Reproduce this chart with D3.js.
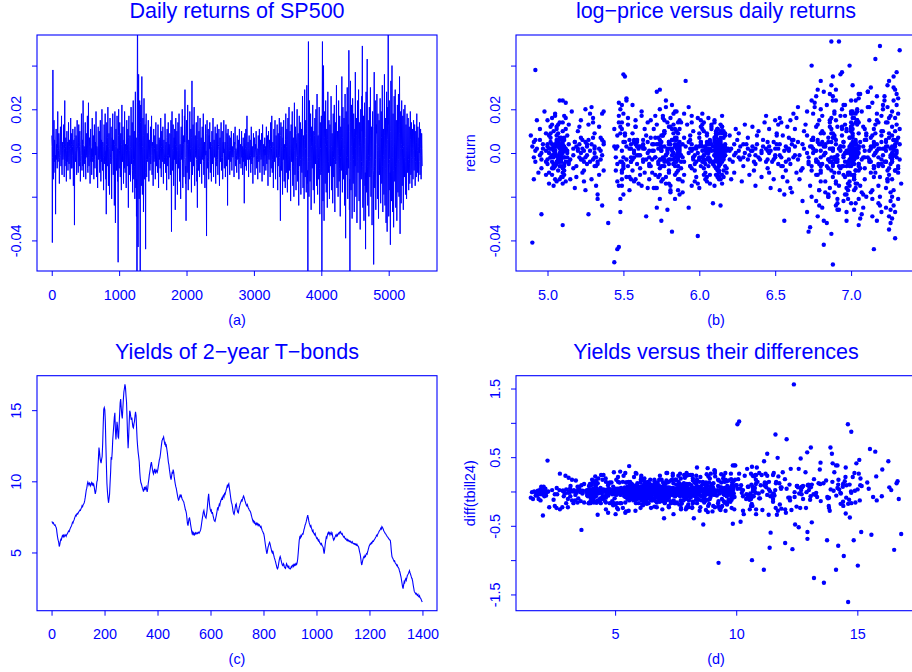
<!DOCTYPE html>
<html><head><meta charset="utf-8">
<script src="https://cdn.jsdelivr.net/npm/d3@7"></script>
<style>
html,body{margin:0;padding:0;background:#fff;}
svg{display:block;}
</style>
</head><body>
<svg id="chart" width="912" height="672"></svg>
<script>
// ---------- DATA ----------
// (a)/(b): SP500 daily returns, every 4th trading day (day index = 1 + 4*j)
const dailyReturns = [
0.008,0.003,-0.041,-0.002,0.038,0.005,-0.012,0.001,0.015,-0.004,0.006,0.002,-0.009,-0.001,-0.028,0.006,0.011,-0.003,0.004,0.000,
-0.007,0.002,0.019,-0.004,-0.003,0.001,0.009,0.004,-0.014,-0.002,0.002,0.007,0.012,-0.001,-0.006,0.003,0.017,-0.005,-0.010,0.001,
0.005,-0.003,-0.002,0.004,0.013,0.000,-0.011,0.002,0.024,-0.006,-0.004,0.003,0.007,-0.002,-0.013,0.001,0.010,-0.004,0.001,0.005,
-0.008,0.001,0.014,-0.002,-0.005,0.006,0.003,-0.004,-0.012,0.002,0.016,-0.001,-0.007,0.004,0.009,-0.007,-0.001,0.003,0.011,0.000,
-0.015,0.004,0.006,-0.003,-0.033,0.007,0.012,0.001,-0.004,-0.002,0.008,0.003,-0.010,-0.005,0.015,0.002,0.002,0.000,-0.009,0.005,
0.013,-0.002,-0.006,0.003,0.010,0.001,-0.013,-0.004,0.004,0.008,0.018,-0.001,-0.008,0.002,0.006,-0.006,0.024,0.004,-0.011,0.001,
0.003,0.002,-0.005,0.000,0.014,-0.003,-0.012,0.005,0.009,-0.001,-0.002,0.004,0.017,-0.007,-0.009,0.001,0.023,-0.002,-0.006,0.003,
0.007,-0.001,-0.014,0.006,0.011,-0.004,0.000,0.002,-0.010,0.003,0.016,-0.002,-0.004,0.001,0.008,-0.005,-0.012,0.004,0.013,-0.003,
-0.007,0.002,0.005,-0.001,0.019,0.005,-0.011,0.003,0.002,-0.006,-0.016,0.001,0.012,-0.002,-0.003,0.004,0.010,0.000,-0.009,0.007,
0.015,-0.003,-0.013,0.002,0.006,-0.004,0.020,0.001,-0.008,0.005,0.004,-0.002,-0.017,0.003,0.013,-0.001,-0.005,0.006,0.018,-0.004,
-0.012,0.001,-0.028,0.004,0.014,-0.003,-0.006,0.007,0.021,-0.002,-0.015,0.003,0.009,-0.006,-0.019,0.002,0.016,0.000,-0.002,-0.005,
0.012,-0.004,-0.021,0.002,0.007,0.001,0.018,-0.003,-0.010,0.006,0.005,-0.001,-0.024,0.004,0.019,-0.008,-0.032,0.003,0.011,-0.002,
-0.008,0.003,0.017,-0.005,-0.013,0.002,-0.050,0.008,0.020,-0.004,-0.007,0.001,0.014,-0.002,-0.011,0.005,0.009,-0.006,-0.017,0.004,
0.022,-0.002,-0.004,0.006,0.012,-0.001,-0.014,0.003,0.006,-0.007,0.019,0.002,-0.009,0.004,0.003,-0.003,-0.016,0.001,0.015,-0.005,
-0.006,0.004,0.011,-0.002,-0.025,0.007,0.017,-0.004,-0.010,0.001,0.008,0.003,-0.013,-0.006,0.021,0.002,-0.005,0.000,0.014,-0.008,
-0.018,0.005,0.024,-0.003,-0.012,0.009,0.010,-0.006,-0.021,0.004,0.028,-0.010,-0.016,0.007,-0.029,-0.012,
-0.204,0.023,0.087,-0.015,-0.043,0.009,0.036,-0.012,-0.021,0.005,0.024,-0.008,-0.065,0.014,0.022,-0.004,-0.015,0.011,0.035,-0.006,-0.019,0.003,0.016,0.008,-0.027,-0.005,0.025,0.002,-0.012,0.006,0.013,-0.009,-0.044,0.012,0.018,-0.003,
-0.011,0.002,0.009,-0.003,-0.004,0.005,0.015,0.000,-0.013,0.004,0.006,-0.002,-0.008,0.001,0.012,-0.005,0.002,0.003,0.017,-0.001,
-0.010,0.003,0.005,-0.001,-0.015,0.006,0.011,-0.004,-0.003,0.002,0.008,0.000,-0.012,0.005,0.014,-0.002,-0.006,0.001,0.004,-0.003,
-0.009,0.001,0.013,-0.002,-0.016,0.004,0.007,-0.003,0.001,0.006,-0.007,0.002,0.016,-0.004,-0.011,0.003,0.010,-0.001,-0.004,0.005,
0.012,-0.003,-0.014,0.002,0.006,0.000,-0.002,-0.005,0.018,0.004,-0.009,0.001,0.005,-0.002,-0.017,0.007,0.011,-0.001,-0.006,0.003,
0.014,-0.001,-0.012,0.004,0.003,-0.002,0.009,0.003,-0.010,0.000,0.015,-0.006,-0.036,0.009,0.019,0.002,-0.008,-0.004,0.013,0.001,
-0.015,0.002,0.007,-0.003,0.011,0.005,-0.026,0.004,0.016,-0.001,-0.005,0.003,0.010,-0.006,-0.019,0.001,0.014,0.000,-0.007,0.004,
0.018,-0.002,-0.013,0.001,0.004,-0.004,-0.021,0.006,0.012,-0.001,-0.003,0.003,0.020,-0.005,-0.016,0.002,0.008,0.004,-0.011,-0.003,
0.017,0.005,0.029,-0.002,-0.014,-0.006,-0.031,0.008,0.015,0.001,-0.009,0.004,0.022,-0.003,-0.017,0.000,0.006,-0.002,-0.012,0.006,
0.019,-0.003,-0.004,0.002,0.011,-0.001,-0.018,0.007,0.033,-0.004,-0.010,0.003,0.013,0.000,-0.006,0.005,0.021,-0.006,-0.015,0.002,
0.008,0.001,-0.002,0.004,0.014,-0.003,-0.013,-0.007,-0.025,0.006,0.017,-0.002,-0.008,0.002,0.010,-0.001,-0.011,0.003,0.016,-0.004,
-0.005,0.002,0.007,0.000,-0.014,0.003,0.012,-0.002,-0.003,0.005,0.018,-0.004,-0.010,0.001,0.005,-0.003,-0.016,0.004,0.013,-0.001,
0.001,-0.006,-0.038,0.009,0.015,-0.002,-0.007,0.003,0.011,-0.004,-0.012,0.001,0.008,0.002,0.014,-0.003,-0.009,0.005,0.004,0.000,
-0.013,0.003,0.010,-0.001,-0.005,0.004,0.016,-0.003,-0.011,0.002,0.006,0.000,-0.002,0.005,0.012,-0.004,-0.014,0.001,0.009,-0.002,
-0.006,0.002,0.013,-0.003,-0.010,0.001,0.003,0.004,0.011,-0.005,-0.015,0.003,0.007,-0.001,-0.004,0.006,0.014,-0.002,-0.008,0.001,
0.010,-0.002,-0.012,0.003,0.005,0.000,0.015,-0.004,-0.007,0.002,0.002,0.005,-0.011,-0.001,0.013,0.001,-0.006,-0.003,0.009,0.004,
-0.024,0.006,0.011,-0.002,-0.003,0.003,0.008,0.001,-0.010,-0.002,
0.007,0.001,-0.004,0.002,0.010,-0.002,-0.008,0.000,0.003,-0.001,-0.002,0.003,0.009,-0.002,-0.011,0.001,0.005,0.004,0.012,-0.003,
-0.006,0.002,0.001,-0.001,-0.009,0.003,0.008,0.000,-0.003,0.001,0.006,-0.003,-0.012,0.004,0.011,-0.002,-0.005,0.000,0.004,0.002,
-0.007,0.001,0.010,-0.002,0.002,0.003,-0.010,0.001,0.007,-0.001,-0.004,0.002,-0.023,0.005,0.009,-0.001,-0.006,0.002,0.011,-0.003,
-0.008,0.003,0.017,-0.002,-0.003,0.001,0.005,0.000,-0.011,0.002,0.008,-0.003,-0.001,0.001,0.006,-0.001,-0.009,0.002,0.012,-0.002,
-0.005,0.000,0.003,-0.004,-0.014,0.002,0.009,0.001,-0.002,0.003,0.007,-0.002,-0.010,0.000,0.004,0.002,0.010,-0.001,-0.007,0.001,
0.002,-0.003,-0.012,0.001,0.008,0.002,-0.004,0.004,0.011,-0.001,-0.009,0.000,0.006,0.001,-0.003,-0.002,0.009,0.003,-0.013,0.004,
0.013,-0.002,-0.006,0.000,0.004,-0.003,-0.010,0.002,0.007,-0.001,0.001,0.003,-0.008,0.001,0.012,-0.004,-0.005,0.002,0.008,-0.001,
-0.015,0.004,0.010,-0.002,-0.003,0.001,0.006,0.000,-0.011,0.003,0.014,-0.004,-0.007,0.002,0.017,0.001,-0.009,-0.003,0.005,0.000,
-0.016,0.003,0.011,0.001,-0.004,0.005,0.015,-0.003,-0.012,-0.001,0.008,0.002,-0.002,0.004,0.013,-0.005,-0.017,0.002,0.009,-0.001,
-0.006,0.004,0.016,-0.002,-0.011,-0.006,-0.031,0.008,0.014,0.001,-0.008,0.003,0.012,-0.004,-0.019,0.002,0.007,-0.003,0.015,0.001,
-0.013,0.002,0.004,-0.005,-0.016,0.006,0.018,-0.001,-0.009,0.003,0.011,-0.002,-0.018,0.006,
0.016,-0.003,-0.012,0.005,0.021,-0.001,-0.008,0.004,0.010,-0.007,-0.022,0.002,0.013,0.000,-0.004,0.008,0.019,-0.005,-0.015,0.003,
0.007,-0.006,-0.020,0.002,0.023,0.001,-0.010,-0.004,0.012,0.006,-0.017,-0.002,0.005,0.009,0.020,-0.001,-0.013,0.003,0.009,-0.008,
-0.024,0.004,0.017,0.000,-0.006,0.005,0.014,-0.003,-0.019,0.002,0.011,-0.006,-0.009,0.007,0.026,-0.002,-0.016,0.001,0.008,-0.004,
-0.021,0.006,0.029,-0.003,-0.011,0.002,0.015,-0.005,-0.018,0.009,0.031,-0.002,-0.014,-0.008,-0.070,0.012,0.051,-0.004,-0.020,0.005,
0.024,-0.002,-0.013,0.007,0.018,-0.004,-0.026,0.003,0.012,0.001,-0.007,0.005,0.022,-0.006,-0.017,0.000,0.010,-0.003,-0.023,0.008,
0.016,-0.001,-0.005,0.004,0.020,-0.006,-0.015,0.002,0.027,-0.003,-0.019,0.006,0.008,-0.002,-0.012,0.009,0.021,-0.007,-0.028,0.003,
0.014,0.002,-0.010,-0.004,0.017,-0.009,-0.068,0.015,0.051,-0.006,-0.022,0.011,0.040,-0.005,-0.031,0.007,0.019,0.000,-0.014,0.004,
0.024,-0.005,-0.018,0.003,0.011,-0.002,-0.025,0.006,0.028,0.001,-0.009,-0.004,0.015,0.002,-0.021,-0.007,0.013,0.005,-0.006,0.000,
0.026,0.003,-0.017,-0.006,0.009,0.001,-0.023,0.004,0.018,-0.002,-0.011,0.008,0.022,-0.003,-0.027,0.002,0.014,-0.005,-0.004,0.006,
0.031,-0.004,-0.016,0.002,0.010,0.005,-0.020,-0.001,0.024,0.003,-0.013,-0.007,0.017,0.009,-0.029,-0.002,0.012,0.001,-0.008,0.006,
0.035,-0.003,-0.018,0.007,0.021,-0.005,-0.012,0.002,0.016,0.000,-0.024,0.004,0.027,-0.008,-0.039,0.006,0.019,-0.001,-0.010,0.003,
0.030,-0.002,-0.021,0.005,0.013,-0.007,0.047,0.010,-0.026,-0.012,-0.058,0.014,0.033,-0.004,-0.017,0.003,0.022,0.006,-0.030,-0.001,
0.025,0.004,-0.014,-0.003,0.018,0.001,-0.027,0.007,0.011,-0.006,0.037,0.002,-0.020,-0.001,0.016,0.008,-0.032,-0.004,0.024,0.000,
-0.009,0.006,0.029,-0.002,-0.022,0.003,0.014,-0.008,-0.035,0.005,0.020,0.001,-0.012,-0.004,0.026,0.010,0.049,-0.006,-0.025,0.002,
0.017,-0.005,-0.031,0.004,0.023,0.000,-0.015,-0.009,-0.044,0.007,0.028,-0.003,-0.018,0.011,0.043,-0.006,-0.024,0.002,0.015,-0.001,
-0.029,0.003,0.021,-0.004,-0.011,0.008,0.030,-0.002,-0.020,0.001,0.012,-0.007,-0.033,0.005,0.019,0.000,-0.008,-0.010,-0.051,0.012,
0.037,-0.006,-0.016,0.002,0.024,-0.003,-0.026,0.004,0.013,0.009,0.027,-0.005,-0.021,0.001,0.018,-0.008,-0.030,0.003,0.015,-0.002,
-0.010,0.005,0.025,0.000,-0.023,-0.004,0.019,0.007,-0.014,0.002,0.031,-0.006,-0.027,0.003,0.011,-0.001,-0.019,0.008,0.036,-0.003,
-0.024,0.002,0.016,-0.007,-0.032,0.004,0.028,-0.010,-0.036,0.006,0.021,0.013,0.058,-0.005,-0.029,0.001,0.024,-0.003,-0.017,-0.009,
-0.042,0.010,0.033,-0.004,-0.022,0.006,0.040,-0.002,-0.027,0.003,0.018,-0.008,-0.034,0.000,0.026,0.005,-0.013,0.004,0.029,-0.006,
-0.025,0.001,0.015,-0.005,-0.031,0.003,0.022,0.000,-0.018,0.007,0.027,-0.003,-0.020,0.009,0.035,-0.004,-0.037,0.002,0.019,-0.002,
-0.023,0.004,0.024,-0.001,-0.015,0.002,0.017,-0.006,-0.026,0.003,0.020,0.005,-0.011,-0.002,0.022,0.000,-0.019,-0.004,0.013,0.001,
-0.021,0.003,0.018,0.000,-0.009,0.004,0.016,-0.003,-0.017,0.001,0.012,-0.005,-0.014,0.002,0.019,0.006,-0.010,-0.001,0.014,-0.002,
-0.016,0.002,0.011,-0.003,-0.012,0.001,0.015,0.004,-0.008,-0.002,0.013,0.000,-0.015,-0.004,0.010,0.003,-0.011,0.005,0.018,-0.001,
-0.009,0.001,0.012,-0.002,-0.013,0.003,0.007,0.000,0.014,-0.004,-0.010,0.002,0.011,0.004,-0.012,-0.001,0.009,0.002,-0.006
];
// log-price on the same days
const logPrices = [
4.89,4.90,4.90,4.91,4.92,4.91,4.91,4.92,4.93,4.92,4.92,4.93,4.94,4.95,4.96,4.95,4.95,4.96,4.97,4.96,
4.96,4.97,4.98,4.99,5.00,4.99,4.99,5.00,5.01,5.02,5.03,5.02,5.02,5.03,5.04,5.05,5.05,5.04,5.03,5.05,
5.06,5.07,5.08,5.07,5.07,5.08,5.09,5.10,5.10,5.09,5.08,5.10,5.11,5.11,5.12,5.11,5.10,5.09,5.09,5.10,
5.11,5.09,5.08,5.07,5.06,5.06,5.07,5.06,5.05,5.04,5.03,5.04,5.04,5.03,5.02,5.03,5.05,5.06,5.06,5.05,
5.04,5.05,5.07,5.08,5.10,5.08,5.06,5.04,5.03,5.02,5.01,5.00,4.99,5.00,5.00,5.01,5.02,5.01,5.01,5.02,
5.03,5.04,5.05,5.04,5.04,5.05,5.06,5.07,5.08,5.06,5.05,5.06,5.07,5.08,5.09,5.08,5.08,5.09,5.10,5.09,
5.09,5.10,5.11,5.10,5.10,5.09,5.08,5.07,5.07,5.08,5.09,5.10,5.11,5.10,5.10,5.11,5.12,5.11,5.11,5.10,
5.09,5.09,5.10,5.11,5.12,5.12,5.13,5.12,5.11,5.11,5.12,5.13,5.14,5.13,5.13,5.14,5.15,5.14,5.14,5.15,
5.17,5.17,5.18,5.17,5.16,5.18,5.19,5.19,5.20,5.19,5.18,5.20,5.21,5.21,5.22,5.21,5.20,5.22,5.23,5.22,
5.22,5.23,5.24,5.23,5.23,5.24,5.25,5.24,5.24,5.25,5.26,5.25,5.25,5.26,5.27,5.26,5.26,5.27,5.28,5.28,
5.29,5.28,5.27,5.29,5.30,5.30,5.31,5.30,5.29,5.31,5.32,5.31,5.31,5.32,5.33,5.31,5.30,5.31,5.32,5.33,
5.34,5.33,5.33,5.34,5.35,5.35,5.36,5.35,5.34,5.36,5.37,5.36,5.36,5.37,5.37,5.37,5.40,5.44,5.44,5.45,
5.45,5.46,5.47,5.46,5.46,5.45,5.44,5.46,5.48,5.49,5.50,5.49,5.49,5.50,5.52,5.51,5.51,5.53,5.54,5.55,
5.56,5.55,5.55,5.57,5.58,5.59,5.60,5.59,5.59,5.61,5.62,5.63,5.64,5.63,5.63,5.65,5.66,5.67,5.68,5.67,
5.67,5.69,5.70,5.71,5.72,5.71,5.71,5.73,5.74,5.75,5.76,5.75,5.75,5.77,5.78,5.79,5.80,5.79,5.79,5.80,
5.81,5.80,5.78,5.77,5.76,5.77,5.77,5.75,5.74,5.73,5.72,5.71,5.70,5.68,5.65,5.58,
5.43,5.47,5.51,5.49,5.47,5.48,5.50,5.49,5.48,5.50,5.52,5.49,5.45,5.47,5.49,5.48,5.47,5.49,5.51,5.50,5.50,5.52,5.53,5.51,5.48,5.50,5.52,5.54,5.55,5.54,5.53,5.49,5.46,5.48,5.50,5.52,
5.54,5.55,5.56,5.56,5.55,5.57,5.58,5.57,5.57,5.58,5.59,5.57,5.56,5.57,5.58,5.59,5.60,5.61,5.62,5.61,
5.61,5.60,5.59,5.60,5.62,5.63,5.64,5.63,5.63,5.64,5.65,5.66,5.67,5.66,5.66,5.67,5.68,5.69,5.70,5.69,
5.69,5.70,5.72,5.71,5.71,5.72,5.73,5.74,5.75,5.74,5.74,5.75,5.76,5.77,5.78,5.77,5.77,5.78,5.79,5.80,
5.81,5.80,5.80,5.81,5.82,5.83,5.84,5.83,5.83,5.84,5.85,5.86,5.87,5.86,5.86,5.85,5.84,5.85,5.86,5.87,
5.88,5.87,5.87,5.86,5.85,5.85,5.86,5.85,5.84,5.86,5.87,5.84,5.82,5.83,5.84,5.85,5.86,5.84,5.83,5.82,
5.81,5.82,5.84,5.83,5.82,5.80,5.79,5.80,5.81,5.82,5.83,5.84,5.85,5.86,5.87,5.86,5.86,5.87,5.88,5.89,
5.90,5.89,5.89,5.87,5.86,5.85,5.84,5.82,5.80,5.78,5.77,5.75,5.74,5.73,5.72,5.73,5.75,5.74,5.73,5.75,
5.76,5.75,5.74,5.76,5.78,5.76,5.75,5.76,5.77,5.79,5.80,5.81,5.82,5.81,5.81,5.83,5.84,5.85,5.86,5.85,
5.85,5.86,5.88,5.87,5.87,5.88,5.89,5.90,5.91,5.90,5.90,5.91,5.92,5.93,5.94,5.93,5.93,5.94,5.95,5.94,
5.94,5.95,5.96,5.95,5.95,5.96,5.97,5.95,5.93,5.94,5.95,5.96,5.97,5.96,5.96,5.97,5.98,5.98,5.99,5.98,
5.97,5.98,6.00,5.99,5.99,6.00,6.01,6.00,6.00,6.01,6.02,6.02,6.03,6.02,6.01,6.00,6.00,6.01,6.02,6.03,
6.04,6.01,5.99,6.00,6.01,6.02,6.03,6.02,6.02,6.03,6.04,6.04,6.05,6.04,6.03,6.03,6.04,6.05,6.06,6.05,
6.05,6.04,6.03,6.03,6.04,6.05,6.06,6.05,6.05,6.06,6.07,6.06,6.06,6.07,6.08,6.07,6.07,6.06,6.05,6.06,
6.06,6.07,6.08,6.07,6.07,6.08,6.09,6.08,6.08,6.09,6.10,6.10,6.11,6.10,6.09,6.10,6.10,6.11,6.12,6.11,
6.11,6.12,6.13,6.12,6.12,6.11,6.10,6.10,6.11,6.12,6.13,6.12,6.12,6.13,6.14,6.13,6.13,6.14,6.15,6.14,
6.14,6.13,6.12,6.12,6.13,6.12,6.11,6.11,6.12,6.13,
6.14,6.13,6.13,6.14,6.15,6.15,6.16,6.15,6.14,6.14,6.15,6.16,6.17,6.16,6.16,6.15,6.14,6.14,6.15,6.16,
6.17,6.16,6.16,6.17,6.18,6.17,6.17,6.16,6.15,6.14,6.13,6.13,6.14,6.13,6.12,6.12,6.13,6.12,6.11,6.11,
6.12,6.13,6.14,6.13,6.13,6.12,6.11,6.10,6.10,6.11,6.12,6.11,6.09,6.10,6.11,6.10,6.10,6.11,6.12,6.12,
6.13,6.14,6.15,6.14,6.14,6.13,6.12,6.12,6.13,6.12,6.11,6.11,6.12,6.13,6.14,6.13,6.13,6.14,6.15,6.14,
6.14,6.15,6.16,6.15,6.15,6.14,6.13,6.13,6.14,6.15,6.16,6.15,6.15,6.16,6.17,6.16,6.16,6.17,6.18,6.18,
6.19,6.20,6.21,6.20,6.20,6.21,6.22,6.23,6.24,6.23,6.23,6.24,6.25,6.26,6.27,6.26,6.26,6.27,6.28,6.29,
6.30,6.29,6.29,6.30,6.31,6.32,6.33,6.32,6.32,6.33,6.34,6.35,6.36,6.35,6.35,6.36,6.37,6.37,6.38,6.37,
6.37,6.38,6.39,6.39,6.40,6.41,6.42,6.41,6.41,6.42,6.43,6.44,6.45,6.44,6.44,6.45,6.46,6.45,6.45,6.46,
6.47,6.46,6.46,6.47,6.48,6.49,6.50,6.49,6.49,6.50,6.51,6.50,6.50,6.51,6.52,6.52,6.53,6.52,6.51,6.53,
6.54,6.53,6.53,6.54,6.55,6.55,6.56,6.55,6.54,6.56,6.57,6.57,6.58,6.57,6.56,6.58,6.59,6.59,6.60,6.59,
6.58,6.59,6.61,6.60,6.60,6.61,6.62,6.63,6.64,6.63,6.63,6.62,6.61,6.62,
6.64,6.65,6.66,6.65,6.65,6.66,6.67,6.68,6.69,6.68,6.68,6.69,6.70,6.71,6.72,6.71,6.71,6.72,6.73,6.74,
6.75,6.74,6.74,6.75,6.76,6.77,6.78,6.77,6.77,6.78,6.79,6.80,6.81,6.80,6.80,6.82,6.83,6.82,6.82,6.80,
6.79,6.80,6.81,6.83,6.84,6.85,6.86,6.85,6.85,6.86,6.87,6.88,6.89,6.88,6.88,6.87,6.86,6.88,6.89,6.90,
6.91,6.90,6.90,6.89,6.88,6.87,6.86,6.88,6.89,6.88,6.87,6.89,6.90,6.87,6.84,6.86,6.87,6.86,6.85,6.87,
6.88,6.89,6.90,6.89,6.89,6.91,6.92,6.93,6.94,6.93,6.93,6.95,6.96,6.97,6.98,6.97,6.97,6.99,7.00,7.01,
7.02,7.01,7.01,7.03,7.04,7.05,7.06,7.05,7.05,7.07,7.08,7.09,7.10,7.09,7.09,7.10,7.11,7.09,7.07,7.05,
7.03,7.01,7.00,6.98,6.96,6.92,6.88,6.90,6.92,6.94,6.95,6.97,6.99,6.98,6.97,6.99,7.01,7.03,7.04,7.03,
7.03,7.05,7.07,7.08,7.09,7.08,7.08,7.10,7.11,7.12,7.13,7.12,7.12,7.13,7.14,7.15,7.16,7.15,7.15,7.16,
7.17,7.15,7.14,7.15,7.16,7.17,7.18,7.17,7.17,7.18,7.19,7.20,7.21,7.20,7.20,7.19,7.18,7.20,7.22,7.23,
7.24,7.23,7.23,7.22,7.21,7.20,7.19,7.21,7.22,7.23,7.24,7.25,7.26,7.25,7.25,7.26,7.27,7.28,7.29,7.28,
7.28,7.27,7.26,7.25,7.24,7.26,7.27,7.26,7.25,7.27,7.28,7.29,7.30,7.29,7.29,7.28,7.27,7.26,7.25,7.27,
7.28,7.30,7.31,7.30,7.30,7.31,7.32,7.29,7.26,7.24,7.22,7.24,7.25,7.27,7.28,7.29,7.30,7.28,7.27,7.29,
7.31,7.32,7.33,7.32,7.31,7.30,7.29,7.31,7.32,7.31,7.30,7.28,7.27,7.28,7.29,7.27,7.26,7.27,7.28,7.30,
7.31,7.30,7.29,7.27,7.26,7.24,7.23,7.24,7.25,7.23,7.21,7.23,7.24,7.23,7.22,7.20,7.19,7.21,7.23,7.21,
7.20,7.18,7.17,7.15,7.14,7.16,7.18,7.16,7.15,7.13,7.11,7.12,7.13,7.15,7.16,7.18,7.19,7.18,7.17,7.15,
7.14,7.13,7.12,7.13,7.15,7.14,7.13,7.11,7.10,7.09,7.08,7.06,7.05,7.06,7.07,7.05,7.03,6.95,6.88,6.91,
6.94,6.95,6.97,6.99,7.00,7.01,7.02,7.03,7.04,7.05,7.06,7.05,7.05,7.04,7.03,7.05,7.06,7.05,7.04,7.03,
7.02,7.03,7.05,7.04,7.03,7.01,7.00,6.99,6.98,7.00,7.01,6.99,6.97,6.95,6.94,6.95,6.96,6.94,6.93,6.91,
6.90,6.88,6.87,6.85,6.84,6.83,6.82,6.77,6.72,6.74,6.76,6.78,6.80,6.79,6.78,6.76,6.74,6.77,6.79,6.80,
6.82,6.81,6.80,6.78,6.77,6.75,6.74,6.72,6.71,6.73,6.75,6.74,6.73,6.75,6.77,6.78,6.80,6.79,6.78,6.80,
6.81,6.80,6.79,6.81,6.82,6.83,6.84,6.83,6.83,6.85,6.86,6.85,6.85,6.87,6.88,6.87,6.87,6.88,6.89,6.90,
6.91,6.90,6.90,6.91,6.92,6.92,6.93,6.92,6.91,6.93,6.94,6.95,6.96,6.95,6.95,6.96,6.97,6.96,6.96,6.97,
6.98,6.99,7.00,6.99,6.99,7.00,7.01,7.02,7.02,7.01,7.00,7.02,7.03,7.03,7.04,7.03,7.02,7.04,7.05,7.04,
7.03,7.02,7.01,7.02,7.02,7.03,7.04,7.03,7.03,7.02,7.01,7.00,6.99,7.00,7.00,7.01,7.02,7.01,7.01,7.00,
6.98,6.99,7.00,7.00,6.99,7.00,7.01,7.01,7.00,6.99,6.98,6.99,7.00,7.01,7.02,7.01,7.01,7.00,7.00
];
// (c)/(d): 2-year T-bond yields, weekly observations 1..1399
const bondYields = [
7.18,7.15,7.12,7.08,7.05,7.07,7.09,7.03,6.98,6.95,6.92,6.94,6.95,6.90,6.84,6.81,6.78,6.71,6.62,6.45,
6.31,6.17,6.05,5.94,5.86,5.79,5.71,5.58,5.42,5.47,5.55,5.66,5.78,5.85,5.92,5.90,5.88,5.97,6.06,6.12,
6.18,6.15,6.12,6.17,6.21,6.14,6.09,6.12,6.16,6.21,6.25,6.22,6.19,6.16,6.13,6.18,6.24,6.27,6.30,6.33,
6.36,6.41,6.45,6.49,6.52,6.50,6.48,6.55,6.63,6.67,6.71,6.76,6.80,6.83,6.87,6.92,6.98,7.05,7.12,7.10,
7.08,7.15,7.22,7.25,7.29,7.35,7.41,7.47,7.52,7.57,7.61,7.59,7.57,7.62,7.68,7.71,7.74,7.72,7.70,7.75,
7.79,7.83,7.86,7.89,7.92,7.95,7.98,7.96,7.95,8.01,8.06,8.11,8.15,8.21,8.28,8.25,8.22,8.28,8.34,8.38,
8.41,8.44,8.48,8.55,8.62,8.74,8.85,8.98,9.12,9.25,9.38,9.45,9.52,9.65,9.78,9.87,9.95,9.90,9.86,9.80,
9.74,9.81,9.88,9.85,9.81,9.75,9.69,9.76,9.83,9.87,9.91,9.83,9.76,9.80,9.84,9.78,9.72,9.76,9.80,9.71,
9.62,9.48,9.35,9.24,9.12,9.20,9.28,9.41,9.55,9.75,9.96,10.02,10.08,10.46,10.85,11.24,11.62,12.01,12.38,12.21,
12.05,11.84,11.63,11.52,11.42,11.35,11.28,11.41,11.55,11.65,11.74,12.20,12.66,13.30,13.95,14.51,15.06,15.12,15.18,15.10,
15.02,14.62,14.21,13.40,12.58,11.86,11.14,10.50,9.86,9.56,9.27,9.05,8.83,8.66,8.49,8.63,8.78,8.94,9.10,9.51,
9.92,10.28,10.65,11.18,11.71,11.61,11.52,11.80,12.08,12.50,12.93,13.19,13.45,13.71,13.98,14.25,14.52,14.66,14.81,14.21,
13.62,13.28,12.94,13.21,13.48,13.83,14.18,14.02,13.86,13.49,13.12,13.08,13.05,13.47,13.89,14.32,14.75,15.13,15.52,15.65,
15.78,15.47,15.16,14.92,14.69,14.55,14.42,14.75,15.08,15.41,15.74,16.01,16.28,16.40,16.52,16.66,16.81,16.71,16.62,16.32,
16.03,15.80,15.58,15.01,14.44,13.82,13.21,12.76,12.32,12.70,13.08,13.60,14.12,14.54,14.96,14.90,14.85,14.68,14.52,14.41,
14.31,14.40,14.48,14.30,14.12,13.97,13.83,13.79,13.76,13.90,14.05,14.13,14.22,14.41,14.61,14.74,14.88,14.75,14.62,14.18,
13.75,13.34,12.94,12.68,12.43,12.22,12.02,11.87,11.72,11.55,11.38,11.01,10.65,10.41,10.18,10.05,9.92,9.86,9.81,9.74,
9.68,9.60,9.52,9.47,9.41,9.34,9.27,9.36,9.46,9.53,9.61,9.49,9.38,9.46,9.55,9.59,9.63,9.52,9.42,9.33,
9.25,9.37,9.48,9.67,9.86,9.99,10.12,10.28,10.45,10.56,10.68,10.81,10.95,11.08,11.21,11.28,11.35,11.21,11.08,10.95,
10.82,10.71,10.61,10.57,10.52,10.63,10.74,10.81,10.88,10.77,10.67,10.61,10.55,10.67,10.79,10.75,10.72,10.68,10.64,10.72,
10.81,10.93,11.05,11.16,11.28,11.40,11.52,11.58,11.64,11.78,11.92,12.08,12.25,12.41,12.58,12.72,12.86,12.90,12.95,12.98,
13.02,13.07,13.12,13.00,12.88,12.76,12.64,12.68,12.71,12.60,12.49,12.52,12.55,12.41,12.28,12.15,12.02,11.85,11.68,11.51,
11.34,11.24,11.15,10.98,10.82,10.69,10.56,10.42,10.28,10.20,10.12,10.23,10.35,10.48,10.61,10.59,10.58,10.70,10.82,10.73,
10.64,10.47,10.31,10.18,10.05,9.93,9.81,9.71,9.62,9.55,9.48,9.37,9.26,9.15,9.05,8.94,8.84,8.76,8.68,8.70,
8.72,8.81,8.91,8.96,9.02,8.98,8.94,9.00,9.06,8.97,8.88,8.82,8.76,8.72,8.69,8.65,8.62,8.58,8.55,8.46,
8.38,8.29,8.21,8.11,8.02,7.97,7.92,7.83,7.74,7.58,7.41,7.21,7.02,6.95,6.88,7.01,7.15,7.26,7.38,7.40,
7.42,7.31,7.21,7.08,6.95,6.83,6.72,6.60,6.48,6.39,6.31,6.36,6.42,6.35,6.28,6.32,6.36,6.30,6.24,6.27,
6.31,6.35,6.38,6.33,6.29,6.31,6.34,6.37,6.40,6.36,6.33,6.35,6.37,6.40,6.42,6.39,6.36,6.40,6.44,6.47,
6.51,6.56,6.62,6.73,6.85,6.98,7.12,7.25,7.38,7.50,7.61,7.73,7.85,7.91,7.96,7.84,7.72,7.63,7.55,7.51,
7.48,7.45,7.42,7.55,7.68,7.81,7.95,8.16,8.38,8.60,8.82,8.97,9.12,8.88,8.64,8.44,8.25,8.13,8.02,7.96,
7.91,7.95,7.98,7.85,7.72,7.78,7.84,7.75,7.65,7.56,7.48,7.39,7.31,7.26,7.22,7.20,7.18,7.26,7.35,7.44,
7.52,7.61,7.71,7.82,7.94,8.06,8.18,8.11,8.05,8.13,8.21,8.30,8.38,8.34,8.31,8.42,8.52,8.58,8.63,8.69,
8.74,8.78,8.82,8.75,8.69,8.82,8.95,8.99,9.02,8.96,8.91,9.02,9.13,9.10,9.08,9.17,9.25,9.31,9.38,9.45,
9.52,9.60,9.68,9.64,9.61,9.70,9.79,9.81,9.84,9.70,9.56,9.43,9.31,9.16,9.02,8.88,8.75,8.63,8.52,8.46,
8.41,8.30,8.18,8.05,7.92,7.83,7.75,7.71,7.68,7.78,7.88,8.00,8.12,8.24,8.35,8.38,8.42,8.30,8.18,8.06,
7.95,7.88,7.82,7.80,7.78,7.90,8.02,8.12,8.21,8.27,8.34,8.41,8.48,8.52,8.56,8.62,8.68,8.65,8.62,8.68,
8.75,8.81,8.88,8.93,8.97,8.91,8.85,8.78,8.71,8.64,8.58,8.52,8.46,8.40,8.34,8.31,8.28,8.32,8.36,8.29,
8.21,8.16,8.12,8.08,8.05,8.00,7.96,7.94,7.92,7.88,7.84,7.78,7.71,7.63,7.55,7.48,7.42,7.35,7.28,7.22,
7.16,7.19,7.22,7.15,7.08,7.11,7.14,7.08,7.02,6.98,6.95,7.01,7.06,7.02,6.98,7.01,7.04,6.98,6.92,6.95,
6.98,6.93,6.88,6.91,6.94,6.90,6.85,6.80,6.76,6.79,6.82,6.75,6.68,6.61,6.55,6.51,6.48,6.43,6.38,6.34,
6.31,6.22,6.12,5.98,5.84,5.70,5.56,5.44,5.32,5.20,5.08,4.99,4.91,5.01,5.12,5.24,5.35,5.42,5.48,5.55,
5.62,5.67,5.71,5.65,5.58,5.50,5.42,5.33,5.25,5.16,5.08,5.03,4.98,5.05,5.12,5.04,4.95,4.86,4.78,4.70,
4.62,4.57,4.51,4.44,4.38,4.30,4.22,4.15,4.08,3.99,3.91,3.88,3.85,3.90,3.96,4.07,4.18,4.30,4.42,4.52,
4.61,4.67,4.72,4.65,4.58,4.49,4.41,4.33,4.25,4.18,4.12,4.10,4.08,4.14,4.21,4.18,4.15,4.06,3.98,3.95,
3.92,3.90,3.88,3.96,4.05,4.13,4.21,4.17,4.12,4.07,4.02,3.98,3.95,4.01,4.08,4.00,3.91,3.88,3.86,3.85,
3.84,3.88,3.92,3.96,4.01,3.98,3.95,4.02,4.08,4.10,4.12,4.07,4.02,4.08,4.15,4.12,4.09,4.14,4.18,4.15,
4.12,4.17,4.22,4.19,4.16,4.22,4.28,4.40,4.52,4.73,4.95,5.18,5.42,5.65,5.88,5.98,6.08,6.05,6.02,6.10,
6.18,6.15,6.12,6.18,6.25,6.28,6.31,6.29,6.28,6.36,6.45,6.53,6.62,6.68,6.75,6.84,6.92,6.97,7.02,7.08,
7.15,7.23,7.31,7.40,7.48,7.55,7.62,7.53,7.45,7.33,7.22,7.13,7.05,6.99,6.94,6.88,6.82,6.85,6.88,6.80,
6.72,6.66,6.61,6.54,6.48,6.51,6.55,6.46,6.38,6.35,6.32,6.28,6.25,6.30,6.34,6.26,6.18,6.13,6.08,6.03,
5.98,6.00,6.02,5.96,5.91,5.86,5.82,5.85,5.88,5.81,5.75,5.71,5.68,5.64,5.61,5.58,5.55,5.59,5.62,5.56,
5.51,5.47,5.43,5.40,5.38,5.25,5.12,5.01,4.92,5.05,5.21,5.40,5.58,5.72,5.85,5.97,6.08,6.05,6.02,6.12,
6.21,6.28,6.35,6.39,6.42,6.36,6.31,6.34,6.38,6.31,6.24,6.29,6.33,6.37,6.41,6.34,6.28,6.32,6.35,6.25,
6.15,6.06,5.98,5.92,5.86,5.89,5.92,5.98,6.05,6.09,6.12,6.17,6.21,6.17,6.14,6.20,6.25,6.21,6.18,6.23,
6.28,6.32,6.35,6.33,6.31,6.37,6.42,6.40,6.38,6.42,6.45,6.40,6.36,6.32,6.29,6.31,6.33,6.27,6.21,6.18,
6.15,6.11,6.08,6.10,6.12,6.07,6.02,5.98,5.95,5.96,5.98,5.93,5.88,5.86,5.84,5.88,5.91,5.86,5.82,5.84,
5.86,5.82,5.78,5.80,5.81,5.77,5.74,5.77,5.79,5.75,5.72,5.70,5.68,5.72,5.75,5.70,5.66,5.63,5.61,5.62,
5.64,5.61,5.58,5.60,5.62,5.58,5.55,5.57,5.59,5.55,5.51,5.53,5.56,5.52,5.49,5.47,5.45,5.41,5.38,5.30,
5.21,5.11,5.02,4.95,4.88,4.75,4.62,4.45,4.28,4.19,4.12,4.22,4.31,4.40,4.48,4.55,4.62,4.67,4.71,4.68,
4.65,4.71,4.78,4.75,4.72,4.79,4.85,4.89,4.92,4.90,4.88,4.97,5.05,5.11,5.18,5.25,5.32,5.39,5.45,5.49,
5.52,5.57,5.61,5.60,5.58,5.63,5.69,5.67,5.65,5.70,5.74,5.78,5.81,5.80,5.78,5.82,5.86,5.89,5.92,5.95,
5.98,6.02,6.05,6.08,6.12,6.17,6.21,6.19,6.16,6.22,6.28,6.31,6.35,6.38,6.42,6.47,6.51,6.53,6.56,6.59,
6.62,6.66,6.71,6.68,6.65,6.74,6.82,6.79,6.75,6.71,6.68,6.63,6.58,6.53,6.49,6.45,6.42,6.39,6.36,6.33,
6.31,6.28,6.25,6.21,6.18,6.15,6.12,6.10,6.08,6.05,6.02,5.99,5.96,5.93,5.91,5.90,5.88,5.85,5.82,5.66,
5.45,5.22,5.02,4.86,4.71,4.66,4.62,4.59,4.55,4.51,4.48,4.42,4.38,4.40,4.41,4.34,4.28,4.24,4.21,4.20,
4.18,4.12,4.08,4.10,4.12,4.05,3.98,3.96,3.95,3.91,3.88,3.80,3.72,3.66,3.61,3.53,3.45,3.36,3.28,3.17,
3.05,2.93,2.82,2.70,2.58,2.51,2.46,2.59,2.72,2.84,2.95,2.91,2.88,2.98,3.08,3.12,3.16,3.10,3.05,3.14,
3.22,3.30,3.38,3.41,3.45,3.48,3.52,3.57,3.61,3.66,3.72,3.65,3.58,3.53,3.48,3.41,3.35,3.28,3.22,3.18,
3.15,3.06,2.98,2.85,2.72,2.61,2.51,2.40,2.28,2.24,2.21,2.18,2.15,2.11,2.08,2.10,2.12,2.07,2.02,2.00,
1.98,2.02,2.05,1.98,1.92,1.90,1.88,1.91,1.95,1.89,1.84,1.81,1.78,1.75,1.72,1.66,1.61,1.57,1.52
];
// diff(tbill24) at the same observations
const yieldChanges = [
-0.05,0.02,-0.08,-0.03,-0.12,0.01,0.06,-0.04,-0.14,0.00,-0.07,0.03,0.04,-0.02,-0.15,-0.01,-0.09,0.04,-0.22,-0.06,
-0.18,-0.03,-0.24,0.01,-0.17,-0.05,-0.11,0.02,-0.31,0.00,0.14,0.04,0.21,-0.01,0.12,0.03,-0.06,0.02,0.17,-0.02,
0.09,0.01,-0.07,-0.02,0.10,0.03,-0.13,0.00,0.08,-0.04,0.11,0.02,-0.06,0.05,-0.05,-0.01,0.12,0.00,0.07,0.03,
0.05,0.02,0.10,-0.01,0.06,0.04,-0.04,0.01,0.15,-0.03,0.08,0.00,0.09,0.02,0.07,0.05,0.13,-0.02,0.16,0.01,
-0.06,0.03,0.14,0.00,0.05,-0.02,0.12,0.04,0.10,0.01,0.09,-0.03,-0.05,0.02,0.11,0.00,0.06,0.05,-0.04,-0.01,
0.08,0.01,0.07,0.02,0.06,-0.01,0.05,0.00,-0.03,0.04,0.11,-0.02,0.09,0.03,0.13,0.01,-0.06,-0.04,0.12,0.02,
0.07,0.04,0.06,0.01,0.14,0.06,0.22,-0.02,0.27,0.08,0.25,0.03,0.15,0.00,0.26,0.05,0.17,-0.03,-0.09,0.02,
-0.12,0.00,0.14,-0.04,-0.07,0.03,-0.12,-0.01,0.13,0.02,0.08,0.05,-0.15,-0.02,0.08,0.01,-0.12,-0.05,0.08,0.03,
-0.18,-0.04,-0.27,0.02,-0.23,-0.06,0.16,0.01,0.27,0.05,0.38,0.09,0.18,-0.05,0.35,0.12,0.83,0.18,1.56,-0.09,
-0.31,0.06,-0.24,-0.11,-0.60,0.03,0.55,-0.07,0.27,0.14,0.22,0.10,0.48,-0.02,0.55,0.21,0.26,0.09,0.08,-0.13,
-1.08,-0.18,-0.79,0.12,-0.52,-0.25,-1.14,0.07,-0.47,-0.16,-1.04,0.05,-0.30,-0.09,-0.28,0.11,0.25,0.04,0.31,0.15,
0.38,-0.07,0.36,0.13,0.49,0.02,-0.15,-0.19,0.76,0.08,0.57,-0.04,0.32,0.16,0.41,0.03,0.35,-0.12,0.21,0.10,
-1.33,-0.05,-0.59,0.18,0.42,-0.09,0.38,0.01,-0.28,-0.14,-0.45,0.06,-0.12,0.11,0.64,-0.03,0.87,0.19,0.62,-0.08,
0.22,0.04,-0.59,-0.16,-0.38,0.09,-0.21,-0.02,0.46,0.13,0.58,-0.07,0.44,0.02,-0.85,0.15,-0.62,-0.11,0.12,0.06,
0.32,-0.13,-0.63,0.03,-0.94,-0.21,-1.26,0.08,-0.84,-0.04,0.64,0.12,0.38,-0.09,0.41,0.01,-0.71,0.10,-0.32,-0.15,
-0.18,0.07,0.15,-0.02,-1.14,0.14,-0.24,-0.10,-0.08,0.03,0.28,-0.06,0.17,0.11,0.98,0.00,0.27,-0.17,-1.61,0.05,
-0.71,-0.08,-0.69,0.02,-0.48,-0.13,-0.75,0.06,-0.28,-0.03,-0.82,0.09,-1.00,-0.11,-0.44,0.04,-0.26,-0.02,-0.12,0.01,
-0.14,0.03,-0.16,-0.02,-0.11,0.00,-0.14,0.04,0.19,-0.05,0.15,0.01,-0.23,0.02,0.17,-0.03,0.08,0.05,-0.21,-0.01,
-0.17,0.06,0.23,-0.04,0.38,0.09,0.26,0.02,0.33,-0.07,0.23,0.11,0.27,0.00,0.26,-0.05,0.14,0.08,-0.27,-0.10,
-0.26,0.03,-0.21,-0.08,-0.09,0.10,0.22,-0.02,0.14,0.05,-0.21,-0.11,-0.12,0.07,0.24,0.01,-0.07,-0.06,-0.08,0.04,
0.17,-0.03,0.24,0.09,0.23,0.00,0.24,-0.06,0.12,0.12,0.28,0.04,0.33,-0.08,0.33,0.06,0.28,-0.01,0.09,0.10,
0.07,-0.07,0.10,0.02,-0.24,-0.11,-0.24,0.05,0.07,-0.03,-0.22,0.08,0.06,-0.01,-0.27,-0.09,-0.26,0.04,-0.34,-0.05,
-0.34,0.06,0.44,-0.10,-0.33,0.01,-0.26,-0.04,-0.28,0.09,1.02,-0.02,0.23,0.07,0.26,-0.06,-0.03,0.03,0.24,0.00,
-0.18,-0.05,-0.33,0.04,0.98,-0.08,-0.24,0.02,-0.19,-0.03,-0.14,0.06,-0.22,-0.01,-0.21,0.00,-0.21,-0.04,-0.16,0.03,
0.04,0.02,0.19,-0.01,0.11,0.04,-0.08,0.00,0.12,-0.03,-0.18,0.01,-0.12,-0.02,-0.07,0.03,-0.07,0.00,-0.07,-0.04,
-0.17,0.01,-0.17,-0.05,-0.19,0.02,-0.10,-0.02,-0.18,0.04,-0.33,-0.06,-0.39,0.03,-0.14,0.00,0.27,0.05,0.23,-0.01,
0.04,-0.03,-0.21,0.02,-0.26,-0.01,-0.23,0.04,-0.24,0.00,-0.17,-0.02,0.11,0.03,-0.14,-0.04,0.08,0.01,-0.12,0.02,
0.07,0.00,0.07,0.02,-0.09,-0.01,0.05,0.01,0.06,-0.02,-0.07,0.03,0.04,0.00,0.05,-0.01,-0.06,0.02,0.08,-0.03,
0.07,0.03,0.11,-0.02,0.23,0.05,0.27,0.01,0.26,-0.04,0.23,0.02,0.24,0.06,0.11,-0.03,-0.24,0.00,-0.17,0.04,
-0.07,-0.02,-0.06,0.04,0.26,0.01,0.27,-0.05,0.35,0.03,0.34,0.07,0.30,-0.04,-0.48,0.02,-0.39,-0.06,-0.23,0.01,
-0.11,0.03,0.07,-0.01,-0.26,0.02,0.12,-0.04,-0.19,0.00,-0.17,0.05,-0.17,-0.03,-0.09,0.01,-0.04,0.04,0.17,-0.02,
0.17,0.02,0.19,0.00,0.23,-0.03,0.24,0.04,-0.13,-0.01,0.16,0.03,0.17,0.01,-0.07,-0.05,0.21,0.02,0.11,0.00,
0.11,-0.01,0.08,0.03,-0.13,0.00,0.26,-0.02,0.07,0.05,-0.11,-0.04,0.22,0.02,-0.05,0.01,0.17,-0.03,0.13,0.04,
0.14,0.01,0.16,-0.03,-0.07,0.04,0.18,0.00,0.05,-0.02,-0.28,0.03,-0.25,-0.05,-0.29,0.02,-0.27,0.01,-0.23,-0.01,
-0.11,0.04,-0.23,-0.02,-0.26,0.00,-0.17,0.03,-0.07,-0.04,0.20,0.01,0.24,0.05,0.23,-0.01,0.07,0.02,-0.24,-0.03,
-0.23,0.00,-0.13,0.03,-0.04,-0.02,0.24,0.01,0.19,0.04,0.13,-0.03,0.14,0.02,0.08,0.00,0.12,-0.05,-0.06,0.03,
0.13,-0.02,0.13,0.01,0.09,0.03,-0.12,-0.04,-0.14,0.00,-0.13,0.02,-0.12,-0.01,-0.12,0.04,-0.06,0.01,0.08,-0.03,
-0.15,0.02,-0.09,-0.03,-0.07,0.01,-0.09,0.00,-0.04,-0.02,-0.08,0.03,-0.13,0.01,-0.16,-0.04,-0.13,0.02,-0.14,0.00,
-0.12,0.01,0.06,0.03,-0.14,-0.02,0.06,0.00,-0.12,0.02,-0.07,-0.01,0.11,0.03,-0.08,-0.03,0.06,0.00,-0.12,0.02,
0.06,-0.01,-0.10,0.02,0.06,0.00,-0.09,-0.03,-0.09,0.01,0.06,0.04,-0.14,-0.02,-0.13,0.00,-0.07,0.03,-0.10,-0.01,
-0.07,0.02,-0.19,-0.04,-0.28,0.01,-0.28,0.05,-0.24,-0.03,-0.24,0.00,-0.17,0.03,0.21,-0.02,0.23,0.04,0.13,0.01,
0.14,-0.03,0.09,0.01,-0.13,0.03,-0.16,-0.02,-0.17,0.00,-0.17,0.04,-0.10,-0.05,0.14,0.02,-0.17,0.01,-0.17,-0.01,
-0.16,0.00,-0.11,0.02,-0.13,-0.03,-0.16,0.01,-0.14,0.03,-0.17,-0.01,-0.06,0.02,0.11,-0.04,0.22,0.01,0.24,0.03,
0.19,0.01,0.11,-0.02,-0.14,0.00,-0.17,0.03,-0.16,-0.01,-0.13,0.02,-0.04,0.00,0.13,-0.03,-0.06,0.02,-0.17,0.01,
-0.06,-0.02,-0.04,0.01,0.17,0.03,0.16,0.00,-0.09,-0.01,-0.10,0.02,-0.07,-0.03,0.13,0.01,-0.17,0.00,-0.05,0.02,
-0.02,0.01,0.08,0.00,0.09,-0.02,-0.06,0.03,0.13,0.01,0.04,-0.01,-0.10,0.02,0.13,0.00,-0.06,-0.03,0.09,0.01,
-0.06,0.02,0.10,-0.01,-0.06,0.03,0.12,0.05,0.24,-0.02,0.28,0.04,0.27,0.01,0.26,-0.03,0.20,0.02,-0.06,0.00,
0.16,-0.02,-0.06,0.03,0.13,0.00,0.06,-0.04,-0.03,0.02,0.17,0.05,0.17,-0.01,0.13,0.03,0.17,0.00,0.10,0.04,
0.13,0.01,0.16,-0.03,0.17,0.04,0.14,0.02,-0.17,-0.05,-0.23,0.00,-0.17,0.03,-0.11,-0.02,-0.12,0.01,0.06,-0.04,
-0.16,0.02,-0.11,0.00,-0.13,-0.03,0.07,0.01,-0.17,0.04,-0.06,-0.02,-0.07,0.00,0.09,0.03,-0.16,-0.01,-0.10,0.02,
-0.10,-0.01,0.04,0.03,-0.11,0.00,-0.09,-0.02,0.06,0.01,-0.13,0.04,-0.07,-0.03,-0.07,0.00,-0.06,0.02,0.07,-0.02,
-0.11,0.03,-0.08,-0.01,-0.05,0.05,-0.26,-0.04,-0.20,0.02,0.29,0.06,0.37,-0.02,0.27,0.01,0.23,0.04,-0.06,0.00,
0.19,-0.02,0.14,0.01,0.07,0.03,-0.11,-0.01,0.07,0.00,-0.14,0.02,0.09,-0.04,0.08,0.03,-0.13,0.01,0.07,-0.03,
-0.20,0.02,-0.17,0.00,-0.12,-0.02,0.06,0.04,0.13,-0.01,0.07,0.01,0.09,0.03,-0.07,0.00,0.11,-0.03,-0.07,0.02,
0.10,0.00,0.07,0.02,-0.04,-0.01,0.11,0.03,-0.04,0.01,0.07,-0.02,-0.09,0.00,-0.07,0.04,0.04,-0.03,-0.12,0.01,
-0.06,0.01,-0.07,-0.03,0.04,0.02,-0.10,0.00,-0.07,-0.01,0.03,0.03,-0.10,0.01,-0.04,-0.02,0.07,0.02,-0.09,0.00,
0.04,-0.01,-0.08,0.02,0.03,0.00,-0.07,0.01,0.05,-0.02,-0.07,0.03,-0.04,0.00,0.07,-0.01,-0.09,0.02,-0.05,-0.03,
0.03,0.02,-0.06,0.00,0.04,-0.01,-0.07,0.03,0.04,0.01,-0.08,-0.02,0.05,0.01,-0.07,0.00,-0.04,-0.03,-0.07,0.02,
-0.17,-0.03,-0.19,0.01,-0.14,0.04,-0.26,-0.02,-0.34,0.00,-0.16,0.05,0.19,-0.01,0.17,0.02,0.14,0.03,0.09,-0.02,
-0.06,0.01,0.13,0.03,-0.06,-0.01,0.13,0.02,0.07,0.00,-0.04,-0.03,0.17,0.04,0.13,0.01,0.14,0.00,0.13,0.02,
0.07,0.02,0.09,-0.01,-0.03,0.01,0.11,0.03,-0.04,0.00,0.09,-0.02,0.07,0.02,-0.03,0.01,0.08,-0.01,0.06,0.03,
0.06,0.00,0.07,0.02,0.07,0.03,0.09,-0.01,-0.05,0.01,0.12,0.02,0.07,-0.02,0.07,0.04,0.09,0.00,0.05,0.01,
0.06,0.03,0.09,-0.02,-0.06,0.01,0.17,0.00,-0.07,-0.03,-0.07,0.02,-0.10,-0.01,-0.09,0.00,-0.07,-0.02,-0.06,0.01,
-0.05,-0.01,-0.06,0.00,-0.07,-0.02,-0.06,0.01,-0.04,-0.01,-0.06,0.02,-0.06,0.00,-0.05,-0.03,-0.03,0.01,-0.06,-0.04,
-0.29,-0.05,-0.33,0.02,-0.31,-0.03,-0.09,0.01,-0.07,0.00,-0.07,-0.02,-0.10,0.03,0.03,-0.01,-0.13,0.00,-0.07,-0.02,
-0.03,0.01,-0.10,-0.03,0.04,0.00,-0.14,0.02,-0.03,-0.04,-0.07,0.01,-0.16,-0.02,-0.56,0.03,-0.16,-0.05,-0.17,0.00,
-0.23,-0.03,-0.23,0.02,-0.24,-0.04,-0.12,0.05,0.26,0.01,0.23,-0.02,-0.07,0.03,0.20,0.00,0.08,-0.01,-0.11,0.04,
0.17,0.02,0.16,0.00,0.07,0.03,0.07,-0.01,0.09,0.01,0.11,-0.03,-0.14,0.02,-0.10,-0.02,-0.13,0.00,-0.13,0.01,
-0.07,-0.02,-0.17,0.01,-0.26,-0.04,-0.21,0.02,-0.23,0.00,0.45,-0.01,-0.06,0.03,-0.07,-0.02,0.04,0.01,-0.35,0.00,
-0.04,0.02,0.07,-0.01,-0.13,0.00,-0.04,0.03,0.07,-0.02,-0.11,0.01,-0.06,-0.03,-0.06,0.00,-0.11,-0.01,-0.09
];
const dayStep = 4;

const returnTicks = [-0.04, -0.02, 0, 0.02, 0.04];
const returnTickLabels = ["-0.04", "", "0.0", "0.02", ""];
const dayTicks = [0, 1000, 2000, 3000, 4000, 5000];
const logPriceTicks = [5.0, 5.5, 6.0, 6.5, 7.0];
const logPriceTickLabels = ["5.0", "5.5", "6.0", "6.5", "7.0"];
const weekTicks = [0, 200, 400, 600, 800, 1000, 1200, 1400];
const yieldTicks = [5, 10, 15];
const yieldLevelTicks = [5, 10, 15];
const changeTicks = [-1.5, -1.0, -0.5, 0, 0.5, 1.0, 1.5];
const changeTickLabels = ["-1.5", "", "-0.5", "", "0.5", "", "1.5"];
const returnLimits = [-0.05, 0.05];

// ---------- DRAWING ----------
const blue = "#0000ff";
const FONT = "'Liberation Sans', Arial, Helvetica, sans-serif";
const tickFont = 14.4, titleFont = 21.5;
const svg = d3.select("#chart");
const defs = svg.append("defs");

const rPad = ([a, b]) => { const r = b - a; return [a - 0.04 * r, b + 0.04 * r]; };

function panel(cfg) {
  const { id, left, top, width, height, xDom, yDom, xTicks, xLabels, yTicks, yLabels, title, sub, ylab } = cfg;
  const x = d3.scaleLinear().domain(xDom).range([left, left + width]);
  const y = d3.scaleLinear().domain(yDom).range([top + height, top]);
  defs.append("clipPath").attr("id", id).append("rect")
    .attr("x", left).attr("y", top).attr("width", width).attr("height", height);
  const g = svg.append("g");
  const plot = g.append("g").attr("clip-path", `url(#${id})`);

  const bx = g.append("g").attr("transform", `translate(0,${top + height})`)
    .call(d3.axisBottom(x).tickValues(xTicks).tickFormat((d, i) => xLabels ? xLabels[i] : String(d)).tickSize(5).tickSizeOuter(0));
  bx.select(".domain").remove();
  bx.attr("font-size", null).attr("font-family", null).attr("color", blue);
  bx.selectAll("line").attr("stroke", blue).attr("stroke-width", 1);
  bx.selectAll("text").attr("y", 28.8).attr("dy", null)
    .attr("font-size", tickFont).attr("font-family", FONT).attr("fill", blue);

  const ly = g.append("g").attr("transform", `translate(${left},0)`)
    .call(d3.axisLeft(y).tickValues(yTicks).tickFormat((d, i) => yLabels ? yLabels[i] : String(d)).tickSize(5).tickSizeOuter(0));
  ly.select(".domain").remove();
  ly.attr("font-size", null).attr("font-family", null).attr("color", blue);
  ly.selectAll("line").attr("stroke", blue).attr("stroke-width", 1);
  ly.selectAll("text").attr("x", null).attr("dy", null)
    .attr("transform", "translate(-16.3,0) rotate(-90)")
    .attr("text-anchor", "middle")
    .attr("font-size", tickFont).attr("font-family", FONT).attr("fill", blue);

  g.append("rect").attr("x", left).attr("y", top).attr("width", width).attr("height", height)
    .attr("fill", "none").attr("stroke", blue).attr("stroke-width", 1.1);

  g.append("text").attr("x", left + width / 2).attr("y", top - 17)
    .attr("text-anchor", "middle").attr("font-size", titleFont).attr("font-family", FONT).attr("fill", blue).text(title);
  g.append("text").attr("x", left + width / 2).attr("y", top + height + 53.5)
    .attr("text-anchor", "middle").attr("font-size", tickFont).attr("font-family", FONT).attr("fill", blue).text(sub);
  if (ylab) {
    g.append("text").attr("transform", `translate(${left - 41},${top + height / 2}) rotate(-90)`)
      .attr("text-anchor", "middle").attr("font-size", tickFont).attr("font-family", FONT).attr("fill", blue).text(ylab);
  }
  return { x, y, plot };
}

// (a)
const nA = Math.min(dailyReturns.length, logPrices.length);
const dayOf = j => 1 + dayStep * j;
const pa = panel({
  id: "clipA", left: 37, top: 35, width: 400, height: 236,
  xDom: rPad([dayOf(0), dayOf(dailyReturns.length - 1)]), yDom: rPad(returnLimits),
  xTicks: dayTicks, yTicks: returnTicks, yLabels: returnTickLabels,
  title: "Daily returns of SP500", sub: "(a)"
});
pa.plot.append("path").datum(d3.range(dailyReturns.length))
  .attr("fill", "none").attr("stroke", blue).attr("stroke-width", 1)
  .attr("d", d3.line().x(j => pa.x(dayOf(j))).y(j => pa.y(dailyReturns[j])));

// (b)
const pb = panel({
  id: "clipB", left: 516, top: 35, width: 400, height: 236,
  xDom: rPad(d3.extent(logPrices)), yDom: rPad(returnLimits),
  xTicks: logPriceTicks, xLabels: logPriceTickLabels, yTicks: returnTicks, yLabels: returnTickLabels,
  title: "log\u2212price versus daily returns", sub: "(b)", ylab: "return"
});
pb.plot.selectAll("circle").data(d3.range(nA)).join("circle")
  .attr("cx", j => pb.x(logPrices[j])).attr("cy", j => pb.y(dailyReturns[j])).attr("r", 2.2).attr("fill", blue);

// (c)
const pc = panel({
  id: "clipC", left: 37, top: 375.7, width: 400, height: 235,
  xDom: rPad([1, bondYields.length]), yDom: rPad(d3.extent(bondYields)),
  xTicks: weekTicks, yTicks: yieldTicks,
  title: "Yields of 2\u2212year T\u2212bonds", sub: "(c)"
});
pc.plot.append("path").datum(d3.range(bondYields.length))
  .attr("fill", "none").attr("stroke", blue).attr("stroke-width", 1.1)
  .attr("d", d3.line().x(k => pc.x(k + 1)).y(k => pc.y(bondYields[k])));

// (d)
const nD = Math.min(bondYields.length, yieldChanges.length);
const pd = panel({
  id: "clipD", left: 516, top: 375.7, width: 400, height: 235,
  xDom: rPad(d3.extent(bondYields)), yDom: rPad(d3.extent(yieldChanges)),
  xTicks: yieldLevelTicks, yTicks: changeTicks, yLabels: changeTickLabels,
  title: "Yields versus their differences", sub: "(d)", ylab: "diff(tbill24)"
});
pd.plot.selectAll("circle").data(d3.range(nD)).join("circle")
  .attr("cx", k => pd.x(bondYields[k])).attr("cy", k => pd.y(yieldChanges[k])).attr("r", 2.2).attr("fill", blue);
</script>
</body></html>
